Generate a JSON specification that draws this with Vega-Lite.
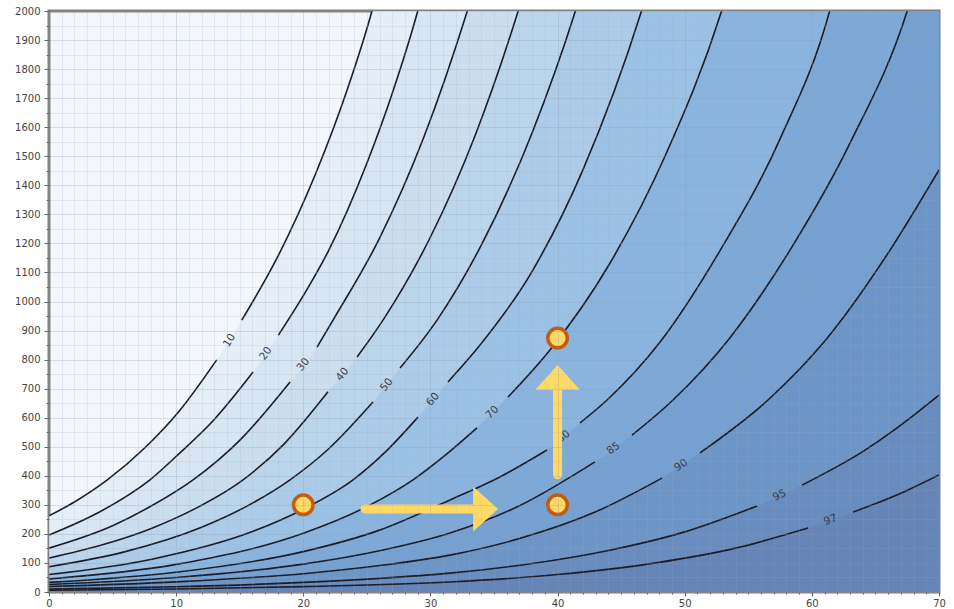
{
  "$schema": "https://vega.github.io/schema/vega-lite/v6.json",
  "width": 890,
  "height": 581,
  "autosize": "none",
  "padding": {"left": 49, "top": 11, "right": 15, "bottom": 17},
  "background": "white",
  "config": {
    "font": "DejaVu Sans",
    "view": {"fill": "#f3f6fb", "stroke": "#808080", "strokeWidth": 3}
  },
  "datasets": {
    "contours": [
      {"c": 10, "s": "10a", "x": 0, "y": 262}, {"c": 10, "s": "10a", "x": 2, "y": 310}, {"c": 10, "s": "10a", "x": 4.56, "y": 385}, {"c": 10, "s": "10a", "x": 7.5, "y": 495}, {"c": 10, "s": "10a", "x": 10.3, "y": 626}, {"c": 10, "s": "10a", "x": 13.19, "y": 799},
      {"c": 10, "s": "10b", "x": 15.16, "y": 936}, {"c": 10, "s": "10b", "x": 18, "y": 1155}, {"c": 10, "s": "10b", "x": 21, "y": 1443}, {"c": 10, "s": "10b", "x": 23.5, "y": 1735}, {"c": 10, "s": "10b", "x": 25.4, "y": 2000}, {"c": 10, "s": "10b", "x": 26, "y": 2100}, {"c": 10, "s": "10b", "x": 70, "y": 2100},
      {"c": 20, "s": "20a", "x": 0, "y": 196}, {"c": 20, "s": "20a", "x": 4, "y": 276}, {"c": 20, "s": "20a", "x": 7.94, "y": 386}, {"c": 20, "s": "20a", "x": 10.3, "y": 479}, {"c": 20, "s": "20a", "x": 13, "y": 594}, {"c": 20, "s": "20a", "x": 16.05, "y": 757},
      {"c": 20, "s": "20b", "x": 18.04, "y": 884}, {"c": 20, "s": "20b", "x": 20, "y": 1020}, {"c": 20, "s": "20b", "x": 22, "y": 1176}, {"c": 20, "s": "20b", "x": 25, "y": 1476}, {"c": 20, "s": "20b", "x": 27, "y": 1717}, {"c": 20, "s": "20b", "x": 29, "y": 2000}, {"c": 20, "s": "20b", "x": 29.6, "y": 2100}, {"c": 20, "s": "20b", "x": 70, "y": 2100},
      {"c": 30, "s": "30a", "x": 0, "y": 151}, {"c": 30, "s": "30a", "x": 5, "y": 228}, {"c": 30, "s": "30a", "x": 8, "y": 295}, {"c": 30, "s": "30a", "x": 11.33, "y": 386}, {"c": 30, "s": "30a", "x": 15, "y": 522}, {"c": 30, "s": "30a", "x": 18.96, "y": 723},
      {"c": 30, "s": "30b", "x": 21.08, "y": 843}, {"c": 30, "s": "30b", "x": 22.34, "y": 936}, {"c": 30, "s": "30b", "x": 26, "y": 1218}, {"c": 30, "s": "30b", "x": 29.5, "y": 1568}, {"c": 30, "s": "30b", "x": 32.9, "y": 2000}, {"c": 30, "s": "30b", "x": 33.6, "y": 2100}, {"c": 30, "s": "30b", "x": 70, "y": 2100},
      {"c": 40, "s": "40a", "x": 0, "y": 117}, {"c": 40, "s": "40a", "x": 4, "y": 160}, {"c": 40, "s": "40a", "x": 8, "y": 218}, {"c": 40, "s": "40a", "x": 11.5, "y": 287}, {"c": 40, "s": "40a", "x": 15.26, "y": 386}, {"c": 40, "s": "40a", "x": 18.5, "y": 510}, {"c": 40, "s": "40a", "x": 21.94, "y": 689},
      {"c": 40, "s": "40b", "x": 24.23, "y": 809}, {"c": 40, "s": "40b", "x": 26.27, "y": 936}, {"c": 40, "s": "40b", "x": 30, "y": 1222}, {"c": 40, "s": "40b", "x": 33.5, "y": 1570}, {"c": 40, "s": "40b", "x": 36.9, "y": 2000}, {"c": 40, "s": "40b", "x": 37.6, "y": 2100}, {"c": 40, "s": "40b", "x": 70, "y": 2100},
      {"c": 50, "s": "50a", "x": 0, "y": 87}, {"c": 50, "s": "50a", "x": 6, "y": 139}, {"c": 50, "s": "50a", "x": 12, "y": 223}, {"c": 50, "s": "50a", "x": 15.5, "y": 294}, {"c": 50, "s": "50a", "x": 18.96, "y": 386}, {"c": 50, "s": "50a", "x": 22, "y": 493}, {"c": 50, "s": "50a", "x": 25.48, "y": 654},
      {"c": 50, "s": "50b", "x": 27.61, "y": 771}, {"c": 50, "s": "50b", "x": 30.52, "y": 936}, {"c": 50, "s": "50b", "x": 34, "y": 1194}, {"c": 50, "s": "50b", "x": 38, "y": 1581}, {"c": 50, "s": "50b", "x": 41.4, "y": 2000}, {"c": 50, "s": "50b", "x": 42.1, "y": 2100}, {"c": 50, "s": "50b", "x": 70, "y": 2100},
      {"c": 60, "s": "60a", "x": 0, "y": 60}, {"c": 60, "s": "60a", "x": 8, "y": 112}, {"c": 60, "s": "60a", "x": 16, "y": 208}, {"c": 60, "s": "60a", "x": 20, "y": 285}, {"c": 60, "s": "60a", "x": 23.91, "y": 386}, {"c": 60, "s": "60a", "x": 26.5, "y": 484}, {"c": 60, "s": "60a", "x": 29.02, "y": 602},
      {"c": 60, "s": "60b", "x": 31.38, "y": 723}, {"c": 60, "s": "60b", "x": 33.9, "y": 850}, {"c": 60, "s": "60b", "x": 38, "y": 1104}, {"c": 60, "s": "60b", "x": 42, "y": 1454}, {"c": 60, "s": "60b", "x": 46.6, "y": 2000}, {"c": 60, "s": "60b", "x": 47.3, "y": 2100}, {"c": 60, "s": "60b", "x": 70, "y": 2100},
      {"c": 70, "s": "70a", "x": 0, "y": 45}, {"c": 70, "s": "70a", "x": 10, "y": 95}, {"c": 70, "s": "70a", "x": 20, "y": 202}, {"c": 70, "s": "70a", "x": 25, "y": 294}, {"c": 70, "s": "70a", "x": 28.63, "y": 386}, {"c": 70, "s": "70a", "x": 31, "y": 465}, {"c": 70, "s": "70a", "x": 33.66, "y": 565},
      {"c": 70, "s": "70b", "x": 36.1, "y": 671}, {"c": 70, "s": "70b", "x": 39.4, "y": 833}, {"c": 70, "s": "70b", "x": 44, "y": 1123}, {"c": 70, "s": "70b", "x": 48.5, "y": 1505}, {"c": 70, "s": "70b", "x": 52.9, "y": 2000}, {"c": 70, "s": "70b", "x": 53.6, "y": 2100}, {"c": 70, "s": "70b", "x": 70, "y": 2100},
      {"c": 80, "s": "80a", "x": 0, "y": 33}, {"c": 80, "s": "80a", "x": 10, "y": 68}, {"c": 80, "s": "80a", "x": 20, "y": 139}, {"c": 80, "s": "80a", "x": 26, "y": 213}, {"c": 80, "s": "80a", "x": 31.54, "y": 317}, {"c": 80, "s": "80a", "x": 35.5, "y": 397}, {"c": 80, "s": "80a", "x": 39.17, "y": 489},
      {"c": 80, "s": "80b", "x": 41.77, "y": 582}, {"c": 80, "s": "80b", "x": 43.89, "y": 661}, {"c": 80, "s": "80b", "x": 48, "y": 857}, {"c": 80, "s": "80b", "x": 52.8, "y": 1177}, {"c": 80, "s": "80b", "x": 57.5, "y": 1560}, {"c": 80, "s": "80b", "x": 61.4, "y": 2000}, {"c": 80, "s": "80b", "x": 62, "y": 2100}, {"c": 80, "s": "80b", "x": 70, "y": 2100},
      {"c": 85, "s": "85a", "x": 0, "y": 26}, {"c": 85, "s": "85a", "x": 10, "y": 50}, {"c": 85, "s": "85a", "x": 20, "y": 96}, {"c": 85, "s": "85a", "x": 26, "y": 142}, {"c": 85, "s": "85a", "x": 31.54, "y": 203}, {"c": 85, "s": "85a", "x": 37, "y": 297}, {"c": 85, "s": "85a", "x": 42.94, "y": 448},
      {"c": 85, "s": "85b", "x": 45.85, "y": 540}, {"c": 85, "s": "85b", "x": 49.08, "y": 661}, {"c": 85, "s": "85b", "x": 53.5, "y": 872}, {"c": 85, "s": "85b", "x": 58.28, "y": 1177}, {"c": 85, "s": "85b", "x": 63, "y": 1545}, {"c": 85, "s": "85b", "x": 67.5, "y": 2000}, {"c": 85, "s": "85b", "x": 68.2, "y": 2100}, {"c": 85, "s": "85b", "x": 70, "y": 2100},
      {"c": 90, "s": "90a", "x": 0, "y": 19}, {"c": 90, "s": "90a", "x": 10, "y": 35}, {"c": 90, "s": "90a", "x": 20, "y": 63}, {"c": 90, "s": "90a", "x": 26, "y": 91}, {"c": 90, "s": "90a", "x": 31.54, "y": 127}, {"c": 90, "s": "90a", "x": 37, "y": 184}, {"c": 90, "s": "90a", "x": 43, "y": 276}, {"c": 90, "s": "90a", "x": 48.21, "y": 392},
      {"c": 90, "s": "90b", "x": 51.2, "y": 479}, {"c": 90, "s": "90b", "x": 56.55, "y": 661}, {"c": 90, "s": "90b", "x": 61, "y": 863}, {"c": 90, "s": "90b", "x": 66.15, "y": 1177}, {"c": 90, "s": "90b", "x": 70, "y": 1453},
      {"c": 95, "s": "95a", "x": 0, "y": 10}, {"c": 95, "s": "95a", "x": 10, "y": 18}, {"c": 95, "s": "95a", "x": 20, "y": 33}, {"c": 95, "s": "95a", "x": 26, "y": 47}, {"c": 95, "s": "95a", "x": 31.54, "y": 65}, {"c": 95, "s": "95a", "x": 38, "y": 98}, {"c": 95, "s": "95a", "x": 44, "y": 143}, {"c": 95, "s": "95a", "x": 50, "y": 207}, {"c": 95, "s": "95a", "x": 55.69, "y": 296},
      {"c": 95, "s": "95b", "x": 59.23, "y": 368}, {"c": 95, "s": "95b", "x": 64, "y": 483}, {"c": 95, "s": "95b", "x": 69.53, "y": 661}, {"c": 95, "s": "95b", "x": 70, "y": 678},
      {"c": 97, "s": "97a", "x": 0, "y": 6}, {"c": 97, "s": "97a", "x": 10, "y": 10.5}, {"c": 97, "s": "97a", "x": 20, "y": 18.5}, {"c": 97, "s": "97a", "x": 31.54, "y": 34.4}, {"c": 97, "s": "97a", "x": 40, "y": 60}, {"c": 97, "s": "97a", "x": 48, "y": 102}, {"c": 97, "s": "97a", "x": 54, "y": 151}, {"c": 97, "s": "97a", "x": 59.7, "y": 220},
      {"c": 97, "s": "97b", "x": 63.24, "y": 275}, {"c": 97, "s": "97b", "x": 67, "y": 340}, {"c": 97, "s": "97b", "x": 70, "y": 403}
    ],
    "labels": [
      {"c": 10, "x": 14.2, "y": 866}, {"c": 20, "x": 17.05, "y": 821}, {"c": 30, "x": 20.0, "y": 783}, {"c": 40, "x": 23.08, "y": 749},
      {"c": 50, "x": 26.55, "y": 713}, {"c": 60, "x": 30.2, "y": 663}, {"c": 70, "x": 34.88, "y": 618}, {"c": 80, "x": 40.47, "y": 535},
      {"c": 85, "x": 44.4, "y": 494}, {"c": 90, "x": 49.71, "y": 436}, {"c": 95, "x": 57.46, "y": 332}, {"c": 97, "x": 61.47, "y": 248}
    ],
    "points": [
      {"x": 20, "y": 300}, {"x": 40, "y": 300}, {"x": 40, "y": 874}
    ],
    "shafts": [
      {"x": 24.85, "y": 286, "x2": 33.6, "y2": 286},
      {"x": 40, "y": 403, "x2": 40, "y2": 700}
    ],
    "heads": [
      {"dir": "right", "x": 34.33, "y": 286},
      {"dir": "up", "x": 40, "y": 738}
    ]
  },
  "layer": [
    {
      "data": {"name": "contours"},
      "mark": {"type": "area", "clip": true, "interpolate": "monotone"},
      "encoding": {
        "x": {
          "field": "x", "type": "quantitative",
          "scale": {"domain": [0, 70], "nice": false, "zero": false},
          "axis": {
            "values": [0,1,2,3,4,5,6,7,8,9,10,11,12,13,14,15,16,17,18,19,20,21,22,23,24,25,26,27,28,29,30,31,32,33,34,35,36,37,38,39,40,41,42,43,44,45,46,47,48,49,50,51,52,53,54,55,56,57,58,59,60,61,62,63,64,65,66,67,68,69,70],
            "tickCount": 1000,
            "format": "d",
            "labelExpr": "datum.value % 10 === 0 ? datum.label : ''",
            "title": null,
            "domain": false,
            "grid": true,
            "gridColor": {"condition": {"test": "datum.value % 10 === 0", "value": "#8a9bb5"}, "value": "#9aabc4"},
            "gridOpacity": {"condition": {"test": "datum.value % 10 === 0", "value": 0.28}, "value": 0.18},
            "tickSize": {"condition": {"test": "datum.value % 10 === 0", "value": 4}, "value": 2},
            "tickColor": "#666",
            "labelFontSize": 10,
            "labelColor": "#444",
            "labelPadding": 2,
            "labelFlush": false,
            "labelOverlap": false,
            "zindex": 1
          }
        },
        "y": {
          "field": "y", "type": "quantitative", "stack": null,
          "scale": {"domain": [0, 2000], "nice": false},
          "axis": {
            "values": [0,50,100,150,200,250,300,350,400,450,500,550,600,650,700,750,800,850,900,950,1000,1050,1100,1150,1200,1250,1300,1350,1400,1450,1500,1550,1600,1650,1700,1750,1800,1850,1900,1950,2000],
            "tickCount": 1000,
            "format": "d",
            "labelExpr": "datum.value % 100 === 0 ? datum.label : ''",
            "title": null,
            "domain": false,
            "grid": true,
            "gridColor": {"condition": {"test": "datum.value % 100 === 0", "value": "#8a9bb5"}, "value": "#9aabc4"},
            "gridOpacity": {"condition": {"test": "datum.value % 100 === 0", "value": 0.28}, "value": 0.18},
            "tickSize": {"condition": {"test": "datum.value % 100 === 0", "value": 5}, "value": 3},
            "tickColor": "#666",
            "labelFontSize": 10,
            "labelColor": "#444",
            "labelPadding": 4,
            "labelFlush": false,
            "labelOverlap": false,
            "zindex": 1
          }
        },
        "y2": {"datum": 0},
        "color": {
          "field": "c", "type": "ordinal",
          "scale": {
            "domain": [10, 20, 30, 40, 50, 60, 70, 80, 85, 90, 95, 97],
            "range": ["#e5edf6", "#d8e6f3", "#cadef0", "#bbd5ec", "#abcbe8", "#9bc1e4", "#8ab4de", "#7ea9d7", "#75a0cf", "#6d96c6", "#678cbd", "#6485b5"]
          },
          "legend": null
        }
      }
    },
    {
      "data": {"name": "contours"},
      "mark": {"type": "line", "clip": true, "interpolate": "monotone", "color": "#1c1c26", "strokeWidth": 1.6},
      "encoding": {
        "x": {"field": "x", "type": "quantitative"},
        "y": {"field": "y", "type": "quantitative"},
        "detail": {"field": "s", "type": "nominal"}
      }
    },
    {
      "data": {"name": "labels"},
      "mark": {"type": "text", "font": "DejaVu Sans", "fontSize": 10.5, "color": "#3a3a3a", "align": "center", "baseline": "middle"},
      "encoding": {
        "x": {"field": "x", "type": "quantitative"},
        "y": {"field": "y", "type": "quantitative"},
        "text": {"field": "c", "type": "nominal"},
        "angle": {
          "field": "c", "type": "quantitative",
          "scale": {"type": "threshold", "domain": [15, 25, 35, 45, 55, 65, 75, 82, 87, 92, 96], "range": [302, 305, 308, 310, 309, 311, 315, 321, 324, 327, 335, 340]}
        }
      }
    },
    {
      "data": {"name": "shafts"},
      "mark": {"type": "rule", "color": "#ffd966", "strokeWidth": 9, "strokeCap": "round"},
      "encoding": {
        "x": {"field": "x", "type": "quantitative"},
        "y": {"field": "y", "type": "quantitative"},
        "x2": {"field": "x2"},
        "y2": {"field": "y2"}
      }
    },
    {
      "data": {"name": "heads"},
      "mark": {"type": "point", "filled": true, "color": "#ffd966", "opacity": 1, "size": 2025, "strokeWidth": 0},
      "encoding": {
        "x": {"field": "x", "type": "quantitative"},
        "y": {"field": "y", "type": "quantitative"},
        "shape": {
          "field": "dir", "type": "nominal",
          "scale": {"domain": ["right", "up"], "range": ["M-0.55,-1L0.56,0L-0.55,1Z", "M-1,0.55L0,-0.56L1,0.55Z"]},
          "legend": null
        }
      }
    },
    {
      "data": {"name": "points"},
      "mark": {"type": "point", "shape": "circle", "filled": false, "fill": "#ffd966", "stroke": "#c55a11", "strokeWidth": 3.5, "size": 380, "opacity": 1, "fillOpacity": 1},
      "encoding": {
        "x": {"field": "x", "type": "quantitative"},
        "y": {"field": "y", "type": "quantitative"}
      }
    }
  ]
}
